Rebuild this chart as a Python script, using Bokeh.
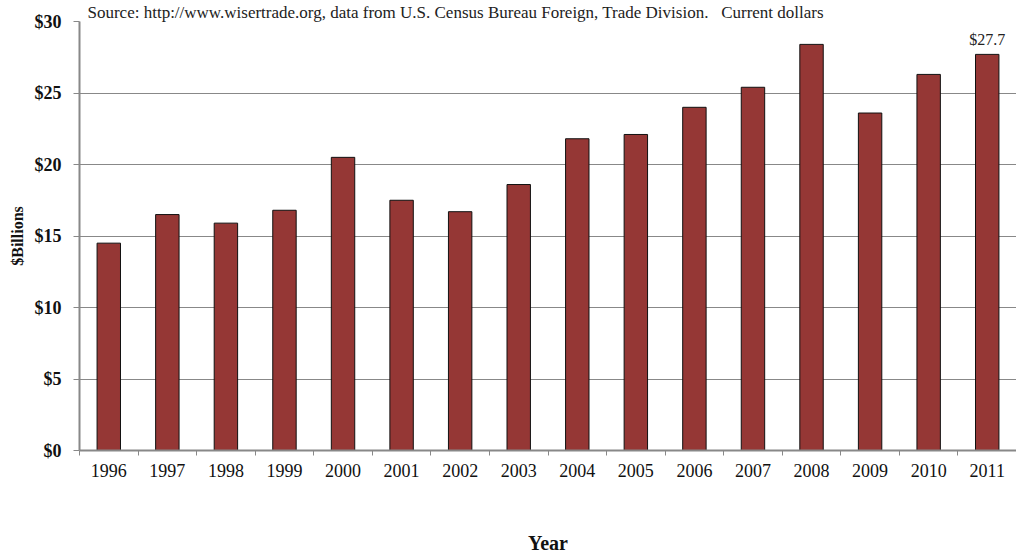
import numpy as np
from bokeh.plotting import figure
from bokeh.models import (Range1d, FixedTicker, NumeralTickFormatter,
                          CustomJSTickFormatter, ColumnDataSource)
from bokeh.core.properties import value
from bokeh.embed import file_html
from bokeh.resources import INLINE

# ---- data ----
years = ["1996", "1997", "1998", "1999", "2000", "2001", "2002", "2003",
         "2004", "2005", "2006", "2007", "2008", "2009", "2010", "2011"]
exports = [14.5, 16.5, 15.9, 16.8, 20.5, 17.5, 16.7, 18.6,
           21.8, 22.1, 24.0, 25.4, 28.4, 23.6, 26.3, 27.7]
y_ticks = [0, 5, 10, 15, 20, 25, 30]
source_text = ("Source: http://www.wisertrade.org, data from U.S. Census Bureau Foreign, "
               "Trade Division.\u00a0\u00a0\u00a0Current dollars")
last_label = "$27.7"

FONT = "Liberation Serif"
GRAY = "#888888"

n = len(years)
centers = list(np.arange(n) + 0.5)
bounds = list(np.arange(n + 1).astype(float))

p = figure(width=1016, height=556, output_backend="svg", toolbar_location=None,
           x_range=Range1d(0, n), y_range=Range1d(0, 30),
           min_border_left=79, min_border_right=0, min_border_top=18,
           min_border_bottom=103)
p.outline_line_color = None
p.background_fill_color = "white"
p.border_fill_color = "white"

# source note as title
p.title.text = source_text
p.title.align = "left"
p.title.offset = 8
p.title.standoff = 0
p.title.text_font = FONT
p.title.text_font_size = "17px"
p.title.text_font_style = "normal"
p.title.text_color = "#222222"

src = ColumnDataSource(dict(x=centers, top=exports, year=years))
p.vbar(x="x", top="top", width=0.4, bottom=0, source=src,
       fill_color="#953735", line_color="#111111", line_width=1)

# value label on last bar
p.text(x=[centers[-1]], y=[exports[-1]], text=[last_label],
       text_align="center", text_baseline="bottom", y_offset=-6,
       text_font=value(FONT), text_font_size="16px", text_color="#222222")

# x axis
xa = p.xaxis[0]
xa.ticker = FixedTicker(ticks=centers, minor_ticks=bounds)
xa.formatter = CustomJSTickFormatter(args=dict(years=years),
                                     code="return years[Math.floor(tick)];")
xa.major_tick_out = 0
xa.major_tick_in = 0
xa.minor_tick_out = 5
xa.minor_tick_in = 0
xa.minor_tick_line_color = GRAY
xa.minor_tick_line_width = 1
xa.axis_line_color = GRAY
xa.axis_line_width = 2
xa.major_label_text_font = FONT
xa.major_label_text_font_size = "18px"
xa.major_label_text_color = "#111111"
xa.major_label_standoff = 8
xa.axis_label = "Year"
xa.axis_label_text_font = FONT
xa.axis_label_text_font_size = "20px"
xa.axis_label_text_font_style = "bold"
xa.axis_label_text_color = "#111111"
xa.axis_label_standoff = 52

# y axis
ya = p.yaxis[0]
ya.ticker = FixedTicker(ticks=y_ticks)
ya.formatter = NumeralTickFormatter(format="$0")
ya.major_tick_out = 6
ya.major_tick_in = 0
ya.minor_tick_out = 0
ya.minor_tick_in = 0
ya.major_tick_line_color = GRAY
ya.axis_line_color = GRAY
ya.axis_line_width = 2
ya.major_label_text_font = FONT
ya.major_label_text_font_size = "18px"
ya.major_label_text_font_style = "bold"
ya.major_label_text_color = "#111111"
ya.major_label_standoff = 12
ya.axis_label = "$Billions"
ya.axis_label_text_font = FONT
ya.axis_label_text_font_size = "16px"
ya.axis_label_text_font_style = "bold"
ya.axis_label_text_color = "#111111"
ya.axis_label_standoff = 6

p.xgrid.visible = False
p.ygrid.ticker = FixedTicker(ticks=y_ticks)
p.ygrid.grid_line_color = GRAY
p.ygrid.grid_line_width = 1

open("out.html", "w").write(file_html(p, INLINE))
